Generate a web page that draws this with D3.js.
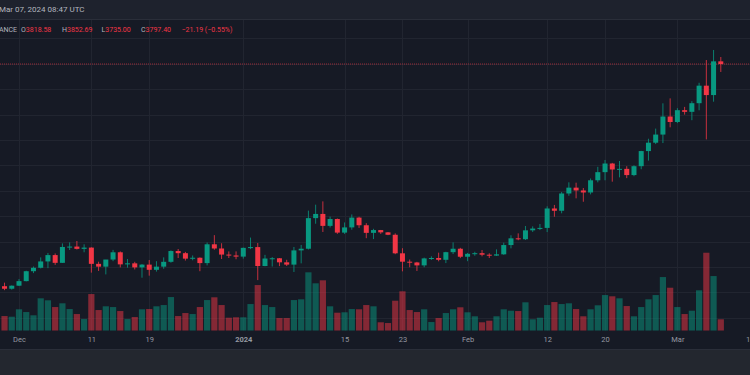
<!DOCTYPE html>
<html>
<head>
<meta charset="utf-8">
<script src="https://cdn.jsdelivr.net/npm/d3@7"></script>
<style>
html, body { margin: 0; padding: 0; background: #161a25; overflow: hidden; }
svg { display: block; font-family: Roboto, "Noto Sans", sans-serif; }
</style>
</head>
<body>
<div id="chart"></div>
<script>
// ETH/USDT daily candles, 29 Nov 2023 .. 07 Mar 2024
const firstDay = '2023-11-29';
const opens = [
    2048, 2028, 2052, 2088, 2166, 2193, 2243, 2293, 2232, 2357, 2360, 2342, 2352, 2224, 2202, 2258,
    2315, 2220, 2228, 2196, 2218, 2177, 2202, 2240, 2325, 2308, 2265, 2272, 2230, 2378, 2345, 2297, 2290,
    2281, 2350, 2356, 2207, 2266, 2268, 2236, 2218, 2330, 2343, 2584, 2617, 2523, 2577, 2470, 2511,
    2588, 2528, 2468, 2490, 2472, 2453, 2307, 2241, 2235, 2212, 2267, 2270, 2256, 2316, 2343,
    2280, 2303, 2308, 2296, 2289, 2299, 2372, 2425, 2418, 2488, 2502, 2507, 2660, 2642, 2778, 2824,
    2802, 2786, 2882, 2946, 3014, 2967, 2972, 2923, 2993, 3112, 3178, 3242, 3384,
    3341, 3434, 3421, 3489, 3627, 3553, 3818.58
];
const highs = [
    2076, 2054, 2104, 2170, 2203, 2275, 2310, 2306, 2385, 2393, 2404, 2378, 2354, 2241, 2255, 2334,
    2322, 2262, 2240, 2222, 2254, 2245, 2275, 2330, 2341, 2318, 2290, 2275, 2392, 2450, 2386, 2322, 2322,
    2352, 2431, 2388, 2295, 2277, 2270, 2256, 2357, 2373, 2643, 2690, 2716, 2596, 2581, 2550, 2613,
    2595, 2544, 2500, 2491, 2475, 2464, 2347, 2258, 2240, 2273, 2283, 2312, 2319, 2393, 2350,
    2310, 2319, 2333, 2307, 2338, 2391, 2449, 2464, 2522, 2519, 2538, 2677, 2688, 2790, 2866, 2863,
    2821, 2896, 2988, 3042, 3019, 3034, 2993, 3000, 3114, 3209, 3289, 3488, 3527,
    3450, 3460, 3505, 3650, 3829, 3908, 3852.69
];
const lows = [
    2017, 2021, 2050, 2086, 2151, 2188, 2190, 2216, 2231, 2333, 2337, 2315, 2155, 2168, 2141, 2245,
    2196, 2194, 2180, 2115, 2131, 2163, 2185, 2233, 2270, 2250, 2252, 2166, 2212, 2335, 2262, 2270, 2260,
    2265, 2340, 2096, 2205, 2203, 2206, 2207, 2160, 2228, 2337, 2540, 2475, 2510, 2460, 2460, 2493,
    2507, 2426, 2419, 2460, 2450, 2300, 2165, 2197, 2168, 2197, 2255, 2244, 2230, 2301, 2269,
    2245, 2288, 2283, 2270, 2286, 2295, 2346, 2410, 2412, 2475, 2490, 2474, 2595, 2622, 2760, 2740,
    2713, 2771, 2866, 2882, 2871, 2905, 2899, 2914, 2969, 3037, 3167, 3175, 3299,
    3332, 3399, 3355, 3433, 3204, 3501, 3735.00
];
const closes = [
    2028, 2052, 2088, 2166, 2193, 2243, 2293, 2232, 2357, 2360, 2342, 2352, 2224, 2202, 2258, 2315,
    2220, 2228, 2196, 2218, 2177, 2202, 2240, 2325, 2308, 2265, 2272, 2230, 2378, 2345, 2297, 2290, 2281,
    2350, 2356, 2207, 2266, 2268, 2236, 2218, 2330, 2343, 2584, 2617, 2523, 2577, 2470, 2511, 2588,
    2528, 2468, 2490, 2472, 2453, 2307, 2241, 2235, 2212, 2267, 2270, 2256, 2316, 2343, 2280,
    2303, 2308, 2296, 2289, 2299, 2372, 2425, 2418, 2488, 2502, 2507, 2660, 2642, 2778, 2824, 2802,
    2786, 2882, 2946, 3014, 2967, 2972, 2923, 2993, 3112, 3178, 3242, 3384, 3341,
    3434, 3421, 3489, 3627, 3553, 3818.59, 3797.40
];
// volume, thousands of ETH
const volumes = [
    176, 168, 257, 224, 185, 389, 365, 284, 329, 260, 200, 140, 440, 248, 293, 284,
    236, 140, 164, 257, 260, 293, 308, 404, 176, 212, 200, 284, 368, 401, 308, 156, 161,
    161, 320, 548, 308, 284, 152, 152, 368, 377, 701, 569, 605, 293, 216, 221, 260,
    257, 308, 293, 101, 92, 360, 473, 248, 224, 257, 104, 152, 212, 257, 281,
    221, 173, 101, 120, 173, 257, 240, 236, 341, 137, 156, 308, 344, 320, 329, 260,
    173, 257, 305, 428, 413, 389, 296, 173, 284, 377, 428, 644, 516,
    284, 200, 240, 485, 936, 656, 137
];

const tickDates = ['2023-12-01', '2023-12-11', '2023-12-19', '2024-01-01', '2024-01-15', '2024-01-23',
    '2024-02-01', '2024-02-12', '2024-02-20', '2024-03-01', '2024-03-11'];
const tickLabels = ['Dec', '11', '19', '2024', '15', '23', 'Feb', '12', '20', 'Mar', '11'];
const gridPrices = [1800, 2000, 2200, 2400, 2600, 2800, 3000, 3200, 3400, 3600, 3800, 4000];

const W = 750, H = 375;
const topBar = 19, volBase = 330.7, bottomStrip = 349;
const up = '#089981', down = '#f23645';

const parse = d3.utcParse('%Y-%m-%d');
const start = parse(firstDay);
const candles = opens.map((o, i) => ({
    date: d3.utcDay.offset(start, i),
    open: o, high: highs[i], low: lows[i], close: closes[i], volume: volumes[i]
}));

const x = d3.scaleUtc()
    .domain([parse('2023-12-01'), parse('2024-03-07')])
    .range([19, 720.8]);
const y = d3.scaleLinear().domain([1800, 3800]).range([317.7, 63.7]);
const yVol = d3.scaleLinear().domain([0, 1000]).range([volBase, volBase - 83.3]);

const svg = d3.select('#chart').append('svg')
    .attr('width', W)
    .attr('height', H);

svg.append('rect').attr('width', W).attr('height', H).attr('fill', '#161a25');

const clip = svg.append('clipPath').attr('id', 'plot')
    .append('rect').attr('x', 0).attr('y', topBar).attr('width', W).attr('height', volBase - topBar);

// grid
svg.append('g').selectAll('line').data(gridPrices).join('line')
    .attr('x1', 0).attr('x2', W)
    .attr('y1', d => Math.round(y(d)) + 0.5).attr('y2', d => Math.round(y(d)) + 0.5)
    .attr('stroke', '#212530');
svg.append('g').selectAll('line').data(tickDates).join('line')
    .attr('x1', d => Math.round(x(parse(d))) + 0.5).attr('x2', d => Math.round(x(parse(d))) + 0.5)
    .attr('y1', topBar).attr('y2', volBase)
    .attr('stroke', '#212530');

const plot = svg.append('g').attr('clip-path', 'url(#plot)');

// volume
plot.append('g').selectAll('rect').data(candles).join('rect')
    .attr('x', d => x(d.date) - 3.1)
    .attr('width', 6.2)
    .attr('y', d => yVol(d.volume))
    .attr('height', d => volBase - yVol(d.volume))
    .attr('fill', d => d.close >= d.open ? up : down)
    .attr('fill-opacity', 0.5);

// last price line
const last = candles[candles.length - 1];
const prev = candles[candles.length - 2];
plot.append('line')
    .attr('x1', 0).attr('x2', W)
    .attr('y1', y(last.close)).attr('y2', y(last.close))
    .attr('stroke', down).attr('stroke-opacity', 0.6)
    .attr('stroke-dasharray', '1,1');

// candles
const c = plot.append('g').selectAll('g').data(candles).join('g')
    .attr('fill', d => d.close >= d.open ? up : down)
    .attr('stroke', d => d.close >= d.open ? up : down);
c.append('line')
    .attr('x1', d => x(d.date)).attr('x2', d => x(d.date))
    .attr('y1', d => y(d.high)).attr('y2', d => y(d.low))
    .attr('stroke-width', 1).attr('stroke-opacity', 0.8);
c.append('rect')
    .attr('x', d => x(d.date) - 2.5)
    .attr('width', 5)
    .attr('y', d => y(Math.max(d.open, d.close)))
    .attr('height', d => Math.max(1, Math.abs(y(d.open) - y(d.close))))
    .attr('stroke', 'none');

// time axis
const axis = d3.axisBottom(x)
    .tickValues(tickDates.map(parse))
    .tickFormat((d, i) => tickLabels[i])
    .tickSize(0)
    .tickPadding(0);
const ax = svg.append('g').attr('transform', `translate(0,${volBase + 6})`).call(axis);
ax.select('.domain').remove();
ax.selectAll('text')
    .attr('fill', '#9598a1')
    .attr('font-size', 7.5)
    .attr('font-family', 'Roboto, sans-serif')
    .attr('font-weight', (d, i) => tickLabels[i] === '2024' ? 'bold' : 'normal')
    .attr('dy', '0.71em');

// bottom strip
svg.append('rect').attr('x', 0).attr('y', bottomStrip).attr('width', W).attr('height', H - bottomStrip)
    .attr('fill', '#23272f');
svg.append('line').attr('x1', 0).attr('x2', W).attr('y1', bottomStrip + 0.5).attr('y2', bottomStrip + 0.5)
    .attr('stroke', '#2a2e39');

// top bar
svg.append('rect').attr('width', W).attr('height', topBar).attr('fill', '#1e222d');
svg.append('line').attr('x1', 0).attr('x2', W).attr('y1', topBar + 0.5).attr('y2', topBar + 0.5)
    .attr('stroke', '#2a2e39');
svg.append('text')
    .attr('x', -1).attr('y', 10)
    .attr('dominant-baseline', 'middle')
    .attr('font-size', 8)
    .attr('fill', '#b2b5be')
    .text(d3.utcFormat('%b %d, %Y')(last.date) + ' 08:47 UTC');

// OHLC legend
const fmt = d3.format('.2f');
const change = last.close - prev.close;
const legend = svg.append('text')
    .attr('y', 30)
    .attr('dominant-baseline', 'middle')
    .attr('font-size', 7);
legend.append('tspan').attr('x', 17).attr('text-anchor', 'end').attr('fill', '#b2b5be').text('BINANCE');
const parts = [['O', last.open, 21], ['H', last.high, 62], ['L', last.low, 101.5], ['C', last.close, 141]];
const leg = svg.append('g');
parts.forEach(([k, v, px]) => {
    const t = leg.append('text').attr('x', px).attr('y', 30)
        .attr('dominant-baseline', 'middle').attr('font-size', 7);
    t.append('tspan').attr('fill', '#b2b5be').text(k);
    t.append('tspan').attr('fill', down).text(fmt(v));
});
leg.append('text').attr('x', 181.5).attr('y', 30)
    .attr('dominant-baseline', 'middle').attr('font-size', 7)
    .attr('fill', down)
    .text(fmt(change).replace('-', '\u2212') + ' (' + fmt(change / prev.close * 100).replace('-', '\u2212') + '%)');
</script>
</body>
</html>
